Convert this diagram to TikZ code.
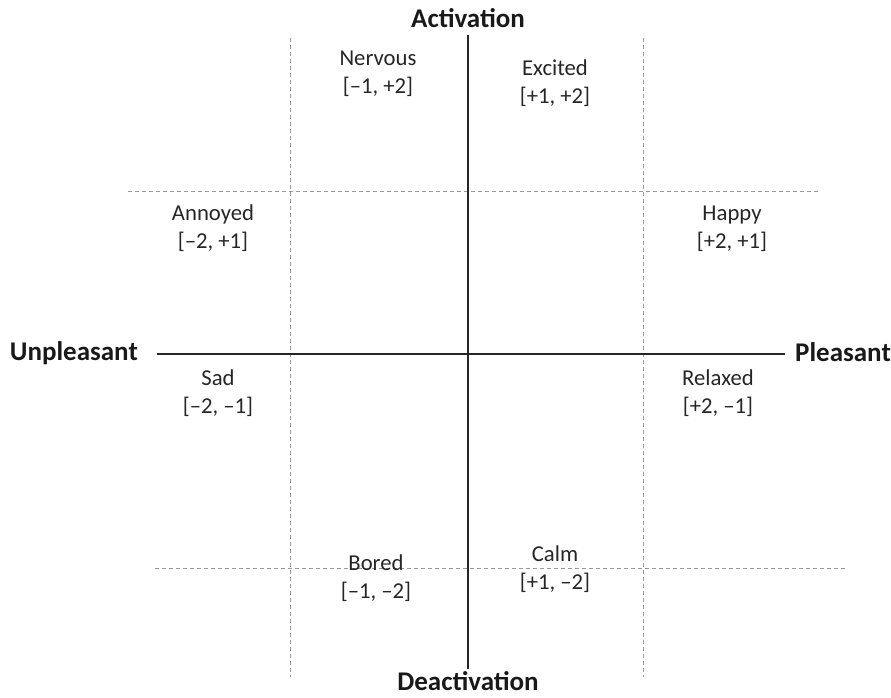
\documentclass[tikz,border=0pt]{standalone}
\usepackage{fontspec}
\setmainfont{Carlito}
\begin{document}
\begin{tikzpicture}[x=1pt,y=-1pt,
  grid/.style={draw=gray!80, line width=0.8pt, dash pattern=on 4pt off 3pt},
  axis/.style={draw=black!85, line width=2.4pt},
  emo/.style={align=center, inner sep=0pt, font=\fontsize{22.7}{28}\selectfont, text=black!85},
  pole/.style={inner sep=0pt, font=\bfseries\fontsize{27}{30}\selectfont, text=black!90}]
\useasboundingbox (0,0) rectangle (891,697);
% grid coordinates
\coordinate (vlt) at (290,38); \coordinate (vlb) at (290,677);
\coordinate (vrt) at (643,38); \coordinate (vrb) at (643,677);
\coordinate (htl) at (128,191); \coordinate (htr) at (819,191);
\coordinate (hbl) at (155,568); \coordinate (hbr) at (845,568);
\draw[grid] (vlt) -- (vlb);
\draw[grid] (vrt) -- (vrb);
\draw[grid] (htl) -- (htr);
\draw[grid] (hbl) -- (hbr);
% axes
\node[pole, anchor=base] (act) at (468,27) {Activation};
\node[pole, anchor=base] (deact) at (468,690) {Deactivation};
\node[pole, anchor=base east] (unp) at (138,360) {Unpleasant};
\node[pole, anchor=base west] (ple) at (795,361) {Pleasant};
\coordinate (at) at (468,35); \coordinate (ab) at (468,669);
\coordinate (al) at (157,354); \coordinate (ar) at (785,354);
\draw[axis] (at) -- (ab);
\draw[axis] (al) -- (ar);
% emotions
\node[emo] (nervous) at (378,74) {Nervous\\{[}–1, +2{]}};
\node[emo] (excited) at (555,83) {Excited\\{[}+1, +2{]}};
\node[emo] (annoyed) at (213,228) {Annoyed\\{[}–2, +1{]}};
\node[emo] (happy) at (732,229) {Happy\\{[}+2, +1{]}};
\node[emo] (sad) at (218,393) {Sad\\{[}–2, –1{]}};
\node[emo] (relaxed) at (718,393) {Relaxed\\{[}+2, –1{]}};
\node[emo] (bored) at (376,578) {Bored\\{[}–1, –2{]}};
\node[emo] (calm) at (555,569) {Calm\\{[}+1, –2{]}};
\end{tikzpicture}
\end{document}
